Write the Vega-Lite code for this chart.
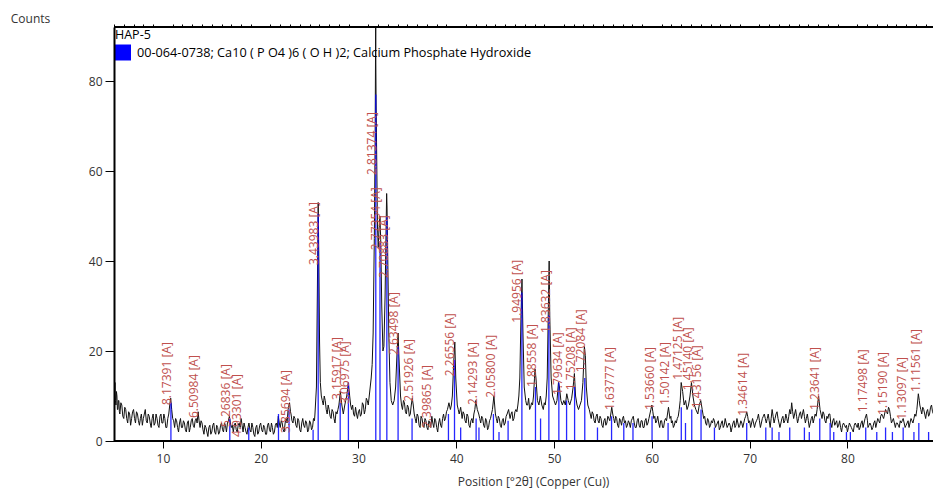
{
  "$schema": "https://vega.github.io/schema/vega-lite/v6.json",
  "width": 819,
  "height": 414,
  "autosize": {"type": "none"},
  "padding": {"left": 114, "top": 27, "right": 0, "bottom": 49},
  "config": {
    "font": "Open Sans",
    "view": {"stroke": null},
    "axis": {"labelFont": "Open Sans", "labelFontSize": 12, "labelColor": "#333", "grid": false, "titleFont": "Open Sans", "titleFontSize": 12, "titleFontWeight": "normal", "titleColor": "#333"}
  },
  "datasets": {
    "pattern": [
      {"pos":5.0,"cnt":16},{"pos":5.05,"cnt":10},{"pos":5.1,"cnt":13},{"pos":5.15,"cnt":9},{"pos":5.2,"cnt":8},{"pos":5.25,"cnt":11},{"pos":5.3,"cnt":10},{"pos":5.35,"cnt":7},{"pos":5.4,"cnt":7},{"pos":5.45,"cnt":9},
      {"pos":5.5,"cnt":9},{"pos":5.55,"cnt":6.5},{"pos":5.6,"cnt":6},{"pos":5.7,"cnt":8.5},{"pos":5.8,"cnt":8},{"pos":5.9,"cnt":5.5},{"pos":6.0,"cnt":5},{"pos":6.1,"cnt":7.5},{"pos":6.2,"cnt":7},{"pos":6.3,"cnt":5},
      {"pos":6.4,"cnt":4},{"pos":6.5,"cnt":6.5},{"pos":6.6,"cnt":6},{"pos":6.7,"cnt":3.5},{"pos":6.8,"cnt":5},{"pos":6.9,"cnt":6.5},{"pos":7.0,"cnt":7},{"pos":7.1,"cnt":5},{"pos":7.2,"cnt":4},{"pos":7.3,"cnt":6.5},
      {"pos":7.4,"cnt":6},{"pos":7.5,"cnt":4.5},{"pos":7.6,"cnt":3.5},{"pos":7.7,"cnt":5},{"pos":7.8,"cnt":6},{"pos":7.9,"cnt":3.5},{"pos":8.0,"cnt":5},{"pos":8.1,"cnt":6},{"pos":8.2,"cnt":7},{"pos":8.3,"cnt":4.5},
      {"pos":8.4,"cnt":4},{"pos":8.5,"cnt":6},{"pos":8.6,"cnt":5.5},{"pos":8.7,"cnt":4},{"pos":8.8,"cnt":3},{"pos":8.9,"cnt":5},{"pos":9.0,"cnt":6},{"pos":9.1,"cnt":3.5},{"pos":9.2,"cnt":4},{"pos":9.3,"cnt":6},
      {"pos":9.4,"cnt":5},{"pos":9.5,"cnt":3.5},{"pos":9.6,"cnt":3},{"pos":9.7,"cnt":5.5},{"pos":9.8,"cnt":6},{"pos":9.9,"cnt":4},{"pos":10.0,"cnt":4},{"pos":10.1,"cnt":6},{"pos":10.2,"cnt":5},{"pos":10.3,"cnt":3},
      {"pos":10.4,"cnt":3},{"pos":10.5,"cnt":5},{"pos":10.6,"cnt":6},{"pos":10.7,"cnt":8},{"pos":10.8,"cnt":9.5},{"pos":10.9,"cnt":7},{"pos":11.0,"cnt":5},{"pos":11.1,"cnt":4.5},{"pos":11.2,"cnt":3},{"pos":11.3,"cnt":5},
      {"pos":11.4,"cnt":4.5},{"pos":11.5,"cnt":3},{"pos":11.6,"cnt":2},{"pos":11.7,"cnt":4},{"pos":11.8,"cnt":5},{"pos":11.9,"cnt":3},{"pos":12.0,"cnt":3},{"pos":12.1,"cnt":4.5},{"pos":12.2,"cnt":4},{"pos":12.3,"cnt":2.5},
      {"pos":12.4,"cnt":2},{"pos":12.5,"cnt":4},{"pos":12.6,"cnt":4.5},{"pos":12.7,"cnt":2},{"pos":12.8,"cnt":3},{"pos":12.9,"cnt":4.5},{"pos":13.0,"cnt":5},{"pos":13.1,"cnt":3.5},{"pos":13.2,"cnt":3},{"pos":13.3,"cnt":4.5},
      {"pos":13.4,"cnt":5},{"pos":13.5,"cnt":4},{"pos":13.6,"cnt":6.5},{"pos":13.7,"cnt":4.5},{"pos":13.8,"cnt":3},{"pos":13.9,"cnt":4.5},{"pos":14.0,"cnt":4},{"pos":14.1,"cnt":2.5},{"pos":14.2,"cnt":1.5},{"pos":14.3,"cnt":3.5},
      {"pos":14.4,"cnt":3},{"pos":14.5,"cnt":2},{"pos":14.6,"cnt":1},{"pos":14.7,"cnt":3},{"pos":14.8,"cnt":3.5},{"pos":14.9,"cnt":1.5},{"pos":15.0,"cnt":2},{"pos":15.1,"cnt":3.5},{"pos":15.2,"cnt":4},{"pos":15.3,"cnt":2},
      {"pos":15.4,"cnt":1.5},{"pos":15.5,"cnt":3.5},{"pos":15.6,"cnt":3},{"pos":15.7,"cnt":1.5},{"pos":15.8,"cnt":2},{"pos":15.9,"cnt":3.5},{"pos":16.0,"cnt":4},{"pos":16.1,"cnt":2.5},{"pos":16.2,"cnt":2},{"pos":16.3,"cnt":4},
      {"pos":16.4,"cnt":3.5},{"pos":16.5,"cnt":2},{"pos":16.6,"cnt":4},{"pos":16.7,"cnt":4.5},{"pos":16.8,"cnt":5.5},{"pos":16.9,"cnt":4},{"pos":17.0,"cnt":3},{"pos":17.1,"cnt":3.5},{"pos":17.2,"cnt":2},{"pos":17.3,"cnt":3.5},
      {"pos":17.4,"cnt":4},{"pos":17.5,"cnt":2.5},{"pos":17.6,"cnt":2},{"pos":17.7,"cnt":3.5},{"pos":17.8,"cnt":4},{"pos":17.9,"cnt":3},{"pos":18.0,"cnt":5},{"pos":18.1,"cnt":3.5},{"pos":18.2,"cnt":2},{"pos":18.3,"cnt":4},
      {"pos":18.4,"cnt":3},{"pos":18.5,"cnt":2},{"pos":18.6,"cnt":1.5},{"pos":18.7,"cnt":3},{"pos":18.8,"cnt":4},{"pos":18.9,"cnt":2.5},{"pos":19.0,"cnt":2},{"pos":19.1,"cnt":4},{"pos":19.2,"cnt":3},{"pos":19.3,"cnt":1.5},
      {"pos":19.4,"cnt":1},{"pos":19.5,"cnt":3},{"pos":19.6,"cnt":3.5},{"pos":19.7,"cnt":1.5},{"pos":19.8,"cnt":2},{"pos":19.9,"cnt":3.5},{"pos":20.0,"cnt":4},{"pos":20.1,"cnt":2.5},{"pos":20.2,"cnt":2},{"pos":20.3,"cnt":3.5},
      {"pos":20.4,"cnt":3},{"pos":20.5,"cnt":1.5},{"pos":20.6,"cnt":1.5},{"pos":20.7,"cnt":3.5},{"pos":20.8,"cnt":4},{"pos":20.9,"cnt":2.5},{"pos":21.0,"cnt":2},{"pos":21.1,"cnt":4},{"pos":21.2,"cnt":3},{"pos":21.3,"cnt":1.5},
      {"pos":21.4,"cnt":2},{"pos":21.5,"cnt":3.5},{"pos":21.6,"cnt":4},{"pos":21.7,"cnt":3},{"pos":21.8,"cnt":5.5},{"pos":21.9,"cnt":4},{"pos":22.0,"cnt":3},{"pos":22.1,"cnt":4.5},{"pos":22.2,"cnt":4},{"pos":22.3,"cnt":2.5},
      {"pos":22.4,"cnt":2},{"pos":22.5,"cnt":4},{"pos":22.6,"cnt":5},{"pos":22.7,"cnt":4},{"pos":22.8,"cnt":7},{"pos":22.95,"cnt":8.5},{"pos":23.05,"cnt":6.5},{"pos":23.1,"cnt":6},{"pos":23.2,"cnt":4.5},{"pos":23.3,"cnt":4},
      {"pos":23.4,"cnt":5.5},{"pos":23.5,"cnt":5},{"pos":23.6,"cnt":3.5},{"pos":23.7,"cnt":3},{"pos":23.8,"cnt":5},{"pos":23.9,"cnt":4.5},{"pos":24.0,"cnt":2.5},{"pos":24.1,"cnt":2},{"pos":24.2,"cnt":4},{"pos":24.3,"cnt":5},
      {"pos":24.4,"cnt":3.5},{"pos":24.5,"cnt":3},{"pos":24.6,"cnt":4.5},{"pos":24.7,"cnt":4},{"pos":24.8,"cnt":2},{"pos":24.9,"cnt":2.5},{"pos":25.0,"cnt":4.5},{"pos":25.1,"cnt":4},{"pos":25.2,"cnt":2.5},{"pos":25.3,"cnt":3},
      {"pos":25.4,"cnt":5},{"pos":25.5,"cnt":4.5},{"pos":25.55,"cnt":6},{"pos":25.7,"cnt":12},{"pos":25.8,"cnt":34},{"pos":25.88,"cnt":53},{"pos":25.95,"cnt":40},{"pos":26.02,"cnt":22},{"pos":26.1,"cnt":13},{"pos":26.2,"cnt":10},
      {"pos":26.3,"cnt":9},{"pos":26.4,"cnt":8},{"pos":26.5,"cnt":10},{"pos":26.6,"cnt":9},{"pos":26.7,"cnt":7},{"pos":26.8,"cnt":6},{"pos":26.9,"cnt":8},{"pos":27.0,"cnt":7},{"pos":27.1,"cnt":5.5},{"pos":27.2,"cnt":5},
      {"pos":27.3,"cnt":7},{"pos":27.4,"cnt":6.5},{"pos":27.5,"cnt":5},{"pos":27.6,"cnt":4},{"pos":27.7,"cnt":6.5},{"pos":27.8,"cnt":6},{"pos":27.9,"cnt":7},{"pos":28.0,"cnt":8},{"pos":28.15,"cnt":11},{"pos":28.3,"cnt":8},
      {"pos":28.45,"cnt":6},{"pos":28.6,"cnt":8},{"pos":28.7,"cnt":9},{"pos":28.8,"cnt":10},{"pos":28.97,"cnt":13},{"pos":29.1,"cnt":10},{"pos":29.2,"cnt":8},{"pos":29.3,"cnt":7},{"pos":29.4,"cnt":8},{"pos":29.5,"cnt":6},
      {"pos":29.6,"cnt":5.5},{"pos":29.7,"cnt":7.5},{"pos":29.8,"cnt":6},{"pos":29.9,"cnt":5},{"pos":30.0,"cnt":6.5},{"pos":30.1,"cnt":7},{"pos":30.2,"cnt":5.5},{"pos":30.3,"cnt":6},{"pos":30.4,"cnt":8.5},{"pos":30.5,"cnt":8},
      {"pos":30.6,"cnt":6},{"pos":30.7,"cnt":7},{"pos":30.8,"cnt":9.5},{"pos":30.9,"cnt":9},{"pos":31.0,"cnt":8},{"pos":31.1,"cnt":10},{"pos":31.2,"cnt":12},{"pos":31.3,"cnt":14},{"pos":31.4,"cnt":17},{"pos":31.5,"cnt":24},
      {"pos":31.62,"cnt":45},{"pos":31.7,"cnt":66},{"pos":31.74,"cnt":84},{"pos":31.765,"cnt":100},{"pos":31.775,"cnt":84},{"pos":31.8,"cnt":76},{"pos":31.86,"cnt":64},{"pos":31.94,"cnt":48},{"pos":32.02,"cnt":43},{"pos":32.1,"cnt":47},
      {"pos":32.2,"cnt":50},{"pos":32.28,"cnt":44},{"pos":32.38,"cnt":30},{"pos":32.5,"cnt":20},{"pos":32.6,"cnt":21},{"pos":32.72,"cnt":32},{"pos":32.82,"cnt":47},{"pos":32.88,"cnt":55},{"pos":32.92,"cnt":52},{"pos":33.0,"cnt":40},
      {"pos":33.1,"cnt":24},{"pos":33.22,"cnt":13},{"pos":33.35,"cnt":9},{"pos":33.5,"cnt":8},{"pos":33.65,"cnt":9},{"pos":33.8,"cnt":12},{"pos":33.95,"cnt":20},{"pos":34.05,"cnt":24},{"pos":34.15,"cnt":18},{"pos":34.3,"cnt":10},
      {"pos":34.4,"cnt":8},{"pos":34.5,"cnt":7},{"pos":34.6,"cnt":9},{"pos":34.7,"cnt":8.5},{"pos":34.8,"cnt":6.5},{"pos":34.9,"cnt":6},{"pos":35.0,"cnt":8},{"pos":35.1,"cnt":7.5},{"pos":35.2,"cnt":5.5},{"pos":35.3,"cnt":6},
      {"pos":35.4,"cnt":8},{"pos":35.5,"cnt":9.5},{"pos":35.6,"cnt":8},{"pos":35.7,"cnt":6},{"pos":35.8,"cnt":5},{"pos":35.9,"cnt":4},{"pos":36.0,"cnt":6},{"pos":36.1,"cnt":5.5},{"pos":36.2,"cnt":3.5},{"pos":36.3,"cnt":3},
      {"pos":36.4,"cnt":5.5},{"pos":36.5,"cnt":5},{"pos":36.6,"cnt":3.5},{"pos":36.7,"cnt":3},{"pos":36.8,"cnt":5},{"pos":36.9,"cnt":4.5},{"pos":37.0,"cnt":3},{"pos":37.1,"cnt":2.5},{"pos":37.2,"cnt":4.5},{"pos":37.3,"cnt":4},
      {"pos":37.4,"cnt":3},{"pos":37.5,"cnt":5.5},{"pos":37.6,"cnt":4},{"pos":37.7,"cnt":3},{"pos":37.8,"cnt":5},{"pos":37.9,"cnt":4.5},{"pos":38.0,"cnt":3},{"pos":38.1,"cnt":2},{"pos":38.2,"cnt":4},{"pos":38.3,"cnt":5},
      {"pos":38.4,"cnt":3.5},{"pos":38.5,"cnt":3},{"pos":38.6,"cnt":5},{"pos":38.7,"cnt":6},{"pos":38.8,"cnt":4.5},{"pos":38.9,"cnt":5},{"pos":39.0,"cnt":6.5},{"pos":39.1,"cnt":7},{"pos":39.25,"cnt":8.5},{"pos":39.4,"cnt":7},
      {"pos":39.5,"cnt":8},{"pos":39.6,"cnt":10},{"pos":39.75,"cnt":18},{"pos":39.85,"cnt":22},{"pos":39.95,"cnt":14},{"pos":40.1,"cnt":8},{"pos":40.2,"cnt":7},{"pos":40.3,"cnt":6},{"pos":40.45,"cnt":7.5},{"pos":40.6,"cnt":5},
      {"pos":40.7,"cnt":6.5},{"pos":40.8,"cnt":6},{"pos":40.9,"cnt":4.5},{"pos":41.0,"cnt":4},{"pos":41.1,"cnt":6},{"pos":41.2,"cnt":5.5},{"pos":41.3,"cnt":3.5},{"pos":41.4,"cnt":3},{"pos":41.5,"cnt":4.5},{"pos":41.6,"cnt":5},
      {"pos":41.7,"cnt":4},{"pos":41.8,"cnt":6},{"pos":41.9,"cnt":7},{"pos":42.0,"cnt":9},{"pos":42.15,"cnt":7},{"pos":42.3,"cnt":6},{"pos":42.4,"cnt":5},{"pos":42.5,"cnt":4},{"pos":42.6,"cnt":5.5},{"pos":42.7,"cnt":5},
      {"pos":42.8,"cnt":3.5},{"pos":42.9,"cnt":3},{"pos":43.0,"cnt":5},{"pos":43.1,"cnt":4.5},{"pos":43.2,"cnt":2.5},{"pos":43.3,"cnt":3},{"pos":43.4,"cnt":4.5},{"pos":43.5,"cnt":5},{"pos":43.6,"cnt":6},{"pos":43.7,"cnt":7},
      {"pos":43.85,"cnt":10},{"pos":44.0,"cnt":6},{"pos":44.1,"cnt":5},{"pos":44.2,"cnt":4},{"pos":44.3,"cnt":5.5},{"pos":44.4,"cnt":5},{"pos":44.5,"cnt":3.5},{"pos":44.6,"cnt":3},{"pos":44.7,"cnt":4.5},{"pos":44.8,"cnt":5},
      {"pos":44.9,"cnt":3.5},{"pos":45.0,"cnt":4},{"pos":45.1,"cnt":5.5},{"pos":45.2,"cnt":6},{"pos":45.35,"cnt":7},{"pos":45.5,"cnt":5},{"pos":45.6,"cnt":6},{"pos":45.7,"cnt":6.5},{"pos":45.8,"cnt":4.5},{"pos":45.9,"cnt":5},
      {"pos":46.0,"cnt":6.5},{"pos":46.1,"cnt":7},{"pos":46.2,"cnt":6.5},{"pos":46.3,"cnt":8},{"pos":46.4,"cnt":10},{"pos":46.5,"cnt":14},{"pos":46.62,"cnt":28},{"pos":46.72,"cnt":36},{"pos":46.82,"cnt":24},{"pos":46.95,"cnt":12},
      {"pos":47.1,"cnt":9},{"pos":47.2,"cnt":8},{"pos":47.3,"cnt":8},{"pos":47.4,"cnt":9.5},{"pos":47.5,"cnt":7},{"pos":47.6,"cnt":7.5},{"pos":47.7,"cnt":8.5},{"pos":47.8,"cnt":8},{"pos":47.9,"cnt":10},{"pos":48.05,"cnt":16},
      {"pos":48.15,"cnt":14},{"pos":48.3,"cnt":9},{"pos":48.45,"cnt":8},{"pos":48.6,"cnt":10},{"pos":48.75,"cnt":8},{"pos":48.9,"cnt":7},{"pos":49.0,"cnt":8.5},{"pos":49.1,"cnt":8},{"pos":49.2,"cnt":10},{"pos":49.3,"cnt":14},
      {"pos":49.42,"cnt":30},{"pos":49.5,"cnt":40},{"pos":49.56,"cnt":28},{"pos":49.7,"cnt":14},{"pos":49.85,"cnt":10},{"pos":50.0,"cnt":9},{"pos":50.15,"cnt":8},{"pos":50.3,"cnt":9},{"pos":50.45,"cnt":13},{"pos":50.55,"cnt":12},
      {"pos":50.7,"cnt":9},{"pos":50.85,"cnt":8},{"pos":51.0,"cnt":9},{"pos":51.15,"cnt":8},{"pos":51.3,"cnt":10.5},{"pos":51.45,"cnt":9},{"pos":51.6,"cnt":8},{"pos":51.8,"cnt":9.5},{"pos":51.95,"cnt":12},{"pos":52.08,"cnt":15},
      {"pos":52.2,"cnt":10},{"pos":52.35,"cnt":8},{"pos":52.5,"cnt":7},{"pos":52.65,"cnt":8},{"pos":52.8,"cnt":9},{"pos":52.95,"cnt":13},{"pos":53.1,"cnt":21},{"pos":53.2,"cnt":19},{"pos":53.3,"cnt":12},{"pos":53.45,"cnt":8},
      {"pos":53.6,"cnt":7},{"pos":53.7,"cnt":6},{"pos":53.8,"cnt":5},{"pos":53.9,"cnt":6.5},{"pos":54.0,"cnt":6},{"pos":54.1,"cnt":4.5},{"pos":54.2,"cnt":4},{"pos":54.3,"cnt":5.5},{"pos":54.4,"cnt":6},{"pos":54.5,"cnt":4.5},
      {"pos":54.6,"cnt":4},{"pos":54.7,"cnt":5.5},{"pos":54.8,"cnt":5},{"pos":54.9,"cnt":3.5},{"pos":55.0,"cnt":3},{"pos":55.1,"cnt":4.5},{"pos":55.2,"cnt":5},{"pos":55.3,"cnt":3.5},{"pos":55.4,"cnt":4},{"pos":55.5,"cnt":5.5},
      {"pos":55.6,"cnt":5},{"pos":55.7,"cnt":4.5},{"pos":55.8,"cnt":6},{"pos":55.9,"cnt":7.5},{"pos":56.0,"cnt":6},{"pos":56.1,"cnt":5},{"pos":56.2,"cnt":4},{"pos":56.3,"cnt":5.5},{"pos":56.4,"cnt":5},{"pos":56.5,"cnt":3.5},
      {"pos":56.6,"cnt":3},{"pos":56.7,"cnt":5},{"pos":56.8,"cnt":4.5},{"pos":56.9,"cnt":3.5},{"pos":57.0,"cnt":5},{"pos":57.1,"cnt":5.5},{"pos":57.2,"cnt":4},{"pos":57.3,"cnt":4.5},{"pos":57.4,"cnt":3},{"pos":57.5,"cnt":3.5},
      {"pos":57.6,"cnt":4.5},{"pos":57.7,"cnt":4},{"pos":57.8,"cnt":3},{"pos":57.9,"cnt":4.5},{"pos":58.0,"cnt":5},{"pos":58.1,"cnt":5.5},{"pos":58.2,"cnt":4},{"pos":58.3,"cnt":3},{"pos":58.4,"cnt":3},{"pos":58.5,"cnt":4.5},
      {"pos":58.6,"cnt":5},{"pos":58.7,"cnt":3.5},{"pos":58.8,"cnt":3},{"pos":58.9,"cnt":4.5},{"pos":59.0,"cnt":4.5},{"pos":59.1,"cnt":3},{"pos":59.2,"cnt":3},{"pos":59.3,"cnt":4.5},{"pos":59.4,"cnt":5},{"pos":59.5,"cnt":3.5},
      {"pos":59.6,"cnt":4},{"pos":59.7,"cnt":5},{"pos":59.8,"cnt":6},{"pos":59.9,"cnt":7},{"pos":60.0,"cnt":8},{"pos":60.1,"cnt":6.5},{"pos":60.2,"cnt":5},{"pos":60.3,"cnt":5.5},{"pos":60.4,"cnt":4},{"pos":60.5,"cnt":4.5},
      {"pos":60.6,"cnt":5.5},{"pos":60.7,"cnt":4},{"pos":60.8,"cnt":3},{"pos":60.9,"cnt":4.5},{"pos":61.0,"cnt":4.5},{"pos":61.1,"cnt":3},{"pos":61.2,"cnt":3},{"pos":61.3,"cnt":4.5},{"pos":61.4,"cnt":5},{"pos":61.5,"cnt":4.5},
      {"pos":61.6,"cnt":6},{"pos":61.7,"cnt":7.5},{"pos":61.85,"cnt":5},{"pos":61.95,"cnt":5.5},{"pos":62.0,"cnt":4},{"pos":62.1,"cnt":4.5},{"pos":62.2,"cnt":3},{"pos":62.3,"cnt":3.5},{"pos":62.4,"cnt":4.5},{"pos":62.5,"cnt":4},
      {"pos":62.6,"cnt":5},{"pos":62.7,"cnt":5.5},{"pos":62.8,"cnt":7},{"pos":62.9,"cnt":9},{"pos":63.0,"cnt":13},{"pos":63.15,"cnt":11},{"pos":63.3,"cnt":8},{"pos":63.45,"cnt":9},{"pos":63.6,"cnt":7},{"pos":63.75,"cnt":8},
      {"pos":63.9,"cnt":10},{"pos":64.05,"cnt":13},{"pos":64.2,"cnt":10},{"pos":64.35,"cnt":8},{"pos":64.5,"cnt":7},{"pos":64.7,"cnt":6},{"pos":64.85,"cnt":8},{"pos":65.0,"cnt":9},{"pos":65.15,"cnt":7},{"pos":65.3,"cnt":5},
      {"pos":65.4,"cnt":5.5},{"pos":65.5,"cnt":4},{"pos":65.6,"cnt":3.5},{"pos":65.7,"cnt":5},{"pos":65.8,"cnt":4.5},{"pos":65.9,"cnt":3},{"pos":66.0,"cnt":3.5},{"pos":66.1,"cnt":4.5},{"pos":66.2,"cnt":4},{"pos":66.3,"cnt":5},
      {"pos":66.4,"cnt":4.5},{"pos":66.5,"cnt":3},{"pos":66.6,"cnt":3.5},{"pos":66.7,"cnt":4},{"pos":66.8,"cnt":4.5},{"pos":66.9,"cnt":2.5},{"pos":67.0,"cnt":3},{"pos":67.1,"cnt":4},{"pos":67.2,"cnt":4.5},{"pos":67.3,"cnt":3},
      {"pos":67.4,"cnt":3.5},{"pos":67.5,"cnt":5},{"pos":67.6,"cnt":4},{"pos":67.7,"cnt":3},{"pos":67.8,"cnt":3.5},{"pos":67.9,"cnt":4},{"pos":68.0,"cnt":3.5},{"pos":68.1,"cnt":2},{"pos":68.2,"cnt":3},{"pos":68.3,"cnt":4},
      {"pos":68.4,"cnt":4.5},{"pos":68.5,"cnt":3},{"pos":68.6,"cnt":3.5},{"pos":68.7,"cnt":5},{"pos":68.8,"cnt":4},{"pos":68.9,"cnt":3},{"pos":69.0,"cnt":3.5},{"pos":69.1,"cnt":4.5},{"pos":69.2,"cnt":4},{"pos":69.3,"cnt":3},
      {"pos":69.4,"cnt":4},{"pos":69.5,"cnt":5},{"pos":69.6,"cnt":5.5},{"pos":69.7,"cnt":6.5},{"pos":69.8,"cnt":5.5},{"pos":69.9,"cnt":4},{"pos":70.0,"cnt":4.5},{"pos":70.1,"cnt":3},{"pos":70.2,"cnt":4},{"pos":70.3,"cnt":5},
      {"pos":70.4,"cnt":4},{"pos":70.5,"cnt":3},{"pos":70.6,"cnt":4},{"pos":70.7,"cnt":4.5},{"pos":70.8,"cnt":5},{"pos":70.9,"cnt":6},{"pos":71.0,"cnt":4.5},{"pos":71.1,"cnt":3},{"pos":71.2,"cnt":4},{"pos":71.3,"cnt":5},
      {"pos":71.4,"cnt":5.5},{"pos":71.5,"cnt":6},{"pos":71.6,"cnt":5},{"pos":71.7,"cnt":4},{"pos":71.8,"cnt":5},{"pos":71.9,"cnt":6},{"pos":72.0,"cnt":4.5},{"pos":72.1,"cnt":3},{"pos":72.2,"cnt":5},{"pos":72.3,"cnt":7},
      {"pos":72.4,"cnt":5.5},{"pos":72.5,"cnt":4},{"pos":72.6,"cnt":5},{"pos":72.7,"cnt":6},{"pos":72.8,"cnt":6.5},{"pos":72.9,"cnt":5},{"pos":73.0,"cnt":4},{"pos":73.1,"cnt":3},{"pos":73.2,"cnt":4},{"pos":73.3,"cnt":5},
      {"pos":73.4,"cnt":5.5},{"pos":73.5,"cnt":4},{"pos":73.6,"cnt":4.5},{"pos":73.7,"cnt":6},{"pos":73.8,"cnt":5},{"pos":73.9,"cnt":4},{"pos":74.0,"cnt":5.5},{"pos":74.1,"cnt":7},{"pos":74.2,"cnt":6},{"pos":74.3,"cnt":8.5},
      {"pos":74.4,"cnt":6.5},{"pos":74.5,"cnt":5},{"pos":74.6,"cnt":6},{"pos":74.7,"cnt":7},{"pos":74.8,"cnt":5.5},{"pos":74.9,"cnt":4},{"pos":75.0,"cnt":5},{"pos":75.1,"cnt":6},{"pos":75.2,"cnt":6.5},{"pos":75.3,"cnt":5},
      {"pos":75.4,"cnt":6},{"pos":75.5,"cnt":7},{"pos":75.6,"cnt":5.5},{"pos":75.7,"cnt":4},{"pos":75.8,"cnt":5},{"pos":75.9,"cnt":6},{"pos":76.0,"cnt":4.5},{"pos":76.1,"cnt":3},{"pos":76.2,"cnt":4},{"pos":76.3,"cnt":5},
      {"pos":76.4,"cnt":5.5},{"pos":76.5,"cnt":4},{"pos":76.6,"cnt":5},{"pos":76.7,"cnt":6},{"pos":76.8,"cnt":5.5},{"pos":76.9,"cnt":7},{"pos":77.05,"cnt":10},{"pos":77.15,"cnt":8},{"pos":77.2,"cnt":7},{"pos":77.3,"cnt":6},
      {"pos":77.4,"cnt":5},{"pos":77.5,"cnt":6.5},{"pos":77.6,"cnt":6},{"pos":77.7,"cnt":4.5},{"pos":77.8,"cnt":4},{"pos":77.9,"cnt":5.5},{"pos":78.0,"cnt":5},{"pos":78.1,"cnt":6},{"pos":78.2,"cnt":6},{"pos":78.3,"cnt":4},
      {"pos":78.4,"cnt":3},{"pos":78.5,"cnt":4.5},{"pos":78.6,"cnt":5},{"pos":78.7,"cnt":3.5},{"pos":78.8,"cnt":4},{"pos":78.9,"cnt":4.5},{"pos":79.0,"cnt":3},{"pos":79.1,"cnt":3.5},{"pos":79.2,"cnt":4.5},{"pos":79.3,"cnt":3},
      {"pos":79.4,"cnt":2},{"pos":79.5,"cnt":3.5},{"pos":79.6,"cnt":4},{"pos":79.7,"cnt":3.5},{"pos":79.8,"cnt":3},{"pos":79.9,"cnt":3.5},{"pos":80.0,"cnt":2},{"pos":80.1,"cnt":3},{"pos":80.2,"cnt":4},{"pos":80.3,"cnt":3.5},
      {"pos":80.4,"cnt":3},{"pos":80.5,"cnt":2.5},{"pos":80.6,"cnt":2},{"pos":80.7,"cnt":3.5},{"pos":80.8,"cnt":4},{"pos":80.9,"cnt":3.5},{"pos":81.0,"cnt":3},{"pos":81.1,"cnt":4},{"pos":81.2,"cnt":2.5},{"pos":81.3,"cnt":3},
      {"pos":81.4,"cnt":4},{"pos":81.5,"cnt":4.5},{"pos":81.6,"cnt":3},{"pos":81.7,"cnt":4},{"pos":81.8,"cnt":5},{"pos":81.95,"cnt":6},{"pos":82.05,"cnt":4.5},{"pos":82.1,"cnt":3},{"pos":82.2,"cnt":3.5},{"pos":82.3,"cnt":4},
      {"pos":82.4,"cnt":3.5},{"pos":82.5,"cnt":2.5},{"pos":82.6,"cnt":3},{"pos":82.7,"cnt":4},{"pos":82.8,"cnt":4.5},{"pos":82.9,"cnt":3},{"pos":83.0,"cnt":4},{"pos":83.1,"cnt":5},{"pos":83.2,"cnt":4.5},{"pos":83.3,"cnt":4},
      {"pos":83.4,"cnt":5.5},{"pos":83.5,"cnt":6},{"pos":83.6,"cnt":5.5},{"pos":83.7,"cnt":5},{"pos":83.8,"cnt":6},{"pos":83.9,"cnt":7},{"pos":84.0,"cnt":6.5},{"pos":84.1,"cnt":6},{"pos":84.2,"cnt":7.5},{"pos":84.3,"cnt":7},
      {"pos":84.4,"cnt":5.5},{"pos":84.5,"cnt":4},{"pos":84.6,"cnt":4.5},{"pos":84.7,"cnt":5},{"pos":84.8,"cnt":4},{"pos":84.9,"cnt":3},{"pos":85.0,"cnt":4},{"pos":85.1,"cnt":4},{"pos":85.2,"cnt":3.5},{"pos":85.3,"cnt":3},
      {"pos":85.4,"cnt":4.5},{"pos":85.5,"cnt":4},{"pos":85.6,"cnt":4.5},{"pos":85.7,"cnt":5},{"pos":85.8,"cnt":4},{"pos":85.9,"cnt":3},{"pos":86.0,"cnt":3.5},{"pos":86.1,"cnt":4},{"pos":86.2,"cnt":4.5},{"pos":86.3,"cnt":3},
      {"pos":86.4,"cnt":4},{"pos":86.5,"cnt":5},{"pos":86.6,"cnt":4.5},{"pos":86.7,"cnt":4},{"pos":86.8,"cnt":5},{"pos":86.9,"cnt":6},{"pos":87.0,"cnt":5.5},{"pos":87.1,"cnt":7},{"pos":87.25,"cnt":10.5},{"pos":87.35,"cnt":9},
      {"pos":87.4,"cnt":8},{"pos":87.5,"cnt":7},{"pos":87.6,"cnt":6},{"pos":87.7,"cnt":7.5},{"pos":87.8,"cnt":7},{"pos":87.9,"cnt":6},{"pos":88.0,"cnt":5},{"pos":88.1,"cnt":6.5},{"pos":88.2,"cnt":7},{"pos":88.3,"cnt":5.5},
      {"pos":88.4,"cnt":6},{"pos":88.5,"cnt":7.5},{"pos":88.6,"cnt":8},{"pos":88.7,"cnt":6.5},{"pos":88.8,"cnt":6},{"pos":88.9,"cnt":7.5},{"pos":89.0,"cnt":7}
    ],
    "sticks": [
      {"pos":10.82,"h":8.5},{"pos":16.84,"h":5},{"pos":18.78,"h":3},{"pos":21.82,"h":6},{"pos":22.9,"h":7},{"pos":25.36,"h":2.5},{"pos":25.88,"h":50.5},{"pos":28.13,"h":8.5},{"pos":28.97,"h":13},{"pos":31.77,"h":77},
      {"pos":32.2,"h":44},{"pos":32.9,"h":50},{"pos":34.05,"h":21},{"pos":35.48,"h":5},{"pos":39.2,"h":6},{"pos":39.82,"h":18},{"pos":40.45,"h":3},{"pos":42.03,"h":5},{"pos":42.32,"h":3},{"pos":43.8,"h":6},
      {"pos":44.37,"h":2},{"pos":45.3,"h":4.5},{"pos":46.71,"h":33},{"pos":48.1,"h":12},{"pos":48.62,"h":5},{"pos":49.47,"h":28},{"pos":50.49,"h":13},{"pos":51.28,"h":9},{"pos":52.1,"h":12},{"pos":53.14,"h":14},
      {"pos":54.44,"h":3},{"pos":55.88,"h":5.5},{"pos":57.13,"h":4},{"pos":58.07,"h":4},{"pos":60.02,"h":5.5},{"pos":61.66,"h":4},{"pos":63.01,"h":7.5},{"pos":63.44,"h":4},{"pos":64.08,"h":7},{"pos":65.03,"h":7},
      {"pos":66.4,"h":3},{"pos":69.7,"h":4},{"pos":71.65,"h":3},{"pos":72.3,"h":3},{"pos":73.0,"h":2},{"pos":74.1,"h":3},{"pos":75.6,"h":3},{"pos":76.1,"h":2},{"pos":77.17,"h":5},{"pos":78.23,"h":4},
      {"pos":78.6,"h":2},{"pos":79.9,"h":2},{"pos":80.3,"h":2},{"pos":81.87,"h":3},{"pos":83.0,"h":2},{"pos":83.9,"h":3},{"pos":84.6,"h":2},{"pos":85.7,"h":3},{"pos":86.8,"h":2},{"pos":87.3,"h":4},{"pos":88.3,"h":2}
    ],
    "labels": [
      {"pos":10.82,"ly":8.0,"lab":"8.17391 [A]"},{"pos":13.59,"ly":5.1,"lab":"6.50984 [A]"},{"pos":16.82,"ly":3.1,"lab":"5.26836 [A]"},{"pos":17.97,"ly":0.9,"lab":"4.93301 [A]"},
      {"pos":23.04,"ly":1.8,"lab":"3.85694 [A]"},{"pos":25.88,"ly":39.1,"lab":"3.43983 [A]"},{"pos":28.2,"ly":9.1,"lab":"3.15917 [A]"},{"pos":29.0,"ly":8.2,"lab":"3.06975 [A]"},
      {"pos":31.78,"ly":59.1,"lab":"2.81374 [A]"},{"pos":32.25,"ly":42.4,"lab":"2.77354 [A]"},{"pos":33.04,"ly":36.2,"lab":"2.70883 [A]"},{"pos":34.0,"ly":19.1,"lab":"2.63498 [A]"},
      {"pos":35.61,"ly":8.7,"lab":"2.51926 [A]"},{"pos":37.46,"ly":2.9,"lab":"2.39865 [A]"},{"pos":39.8,"ly":14.4,"lab":"2.26556 [A]"},{"pos":42.13,"ly":8.0,"lab":"2.14293 [A]"},
      {"pos":43.96,"ly":9.6,"lab":"2.05800 [A]"},{"pos":46.6,"ly":26.3,"lab":"1.94956 [A]"},{"pos":48.2,"ly":12.0,"lab":"1.88558 [A]"},{"pos":49.6,"ly":24.0,"lab":"1.83632 [A]"},
      {"pos":50.8,"ly":10.2,"lab":"1.79634 [A]"},{"pos":52.18,"ly":11.3,"lab":"1.75208 [A]"},{"pos":53.2,"ly":15.3,"lab":"1.72084 [A]"},{"pos":56.14,"ly":6.9,"lab":"1.63777 [A]"},
      {"pos":60.17,"ly":6.9,"lab":"1.53660 [A]"},{"pos":61.72,"ly":8.0,"lab":"1.50142 [A]"},{"pos":63.12,"ly":13.6,"lab":"1.47125 [A]"},{"pos":64.08,"ly":11.3,"lab":"1.45140 [A]"},
      {"pos":65.07,"ly":7.3,"lab":"1.43156 [A]"},{"pos":69.77,"ly":5.6,"lab":"1.34614 [A]"},{"pos":77.06,"ly":6.9,"lab":"1.23641 [A]"},{"pos":81.97,"ly":6.4,"lab":"1.17498 [A]"},
      {"pos":84.0,"ly":5.8,"lab":"1.15190 [A]"},{"pos":85.96,"ly":4.7,"lab":"1.13097 [A]"},{"pos":87.47,"ly":10.9,"lab":"1.11561 [A]"}
    ],
    "frame": [
      {"side": "top", "cnt": 92},
      {"side": "bottom", "cnt": 0}
    ]
  },
  "resolve": {"axis": {"x": "independent", "y": "independent"}},
  "layer": [
    {
      "data": {"name": "pattern"},
      "mark": {"type": "line", "color": "#111", "strokeWidth": 1.0, "clip": true},
      "encoding": {
        "x": {"field": "pos", "type": "quantitative", "scale": {"domain": [5, 88.75], "nice": false, "zero": false},
          "axis": {"values": [10, 20, 30, 40, 50, 60, 70, 80], "domain": false, "ticks": true, "tickColor": "#000", "tickWidth": 1, "tickSize": 7, "zindex": 2,
            "labelPadding": 5, "title": "Position [°2θ] (Copper (Cu))", "titleX": 419, "titleY": 40, "titleBaseline": "middle", "titleAlign": "center"}},
        "y": {"field": "cnt", "type": "quantitative", "scale": {"domain": [0, 92], "nice": false},
          "axis": {"values": [0, 20, 40, 60, 80], "domain": true, "domainColor": "#000", "domainWidth": 2, "ticks": true, "tickColor": "#000", "tickWidth": 1, "tickSize": 9, "zindex": 2, "labelPadding": 3, "title": "Counts", "titleAngle": 0, "titleX": -84, "titleY": -9, "titleAlign": "center", "titleBaseline": "middle"}}
      }
    },
    {
      "data": {"name": "sticks"},
      "mark": {"type": "rule", "strokeWidth": 1.3, "opacity": 0.85},
      "encoding": {
        "x": {"field": "pos", "type": "quantitative",
          "axis": {"values": [5,6,7,8,9,11,12,13,14,15,16,17,18,19,21,22,23,24,25,26,27,28,29,31,32,33,34,35,36,37,38,39,41,42,43,44,45,46,47,48,49,51,52,53,54,55,56,57,58,59,61,62,63,64,65,66,67,68,69,71,72,73,74,75,76,77,78,79,81,82,83,84,85,86,87,88],
            "labels": false, "domain": false, "ticks": true, "tickColor": "#000", "tickWidth": 1, "tickSize": 3, "title": null, "zindex": 2}},
        "y": {"field": "h", "type": "quantitative", "axis": null},
        "y2": {"datum": 0},
        "color": {"datum": "00-064-0738; Ca10 ( P O4 )6 ( O H )2; Calcium Phosphate Hydroxide", "type": "nominal",
          "scale": {"range": ["#0000ff"]},
          "legend": {"title": "HAP-5", "orient": "none", "legendX": 1, "legendY": 2, "symbolType": "square", "symbolSize": 256,
            "symbolFillColor": "#0000ff", "symbolStrokeColor": "#0000ff", "symbolStrokeWidth": 0, "symbolOpacity": 1,
            "labelLimit": 800, "labelFontSize": 12.7, "labelFont": "Open Sans", "labelColor": "#000", "labelOffset": 6,
            "titleFontSize": 12.5, "titleFont": "Open Sans", "titleFontWeight": "normal", "titleColor": "#000", "titlePadding": 3, "padding": 0,
            "encode": {"symbols": {"update": {"fill": {"value": "#0000ff"}, "stroke": {"value": "#0000ff"}, "opacity": {"value": 1}}}}}}
      }
    },
    {
      "data": {"name": "labels"},
      "mark": {"type": "text", "angle": 270, "align": "left", "baseline": "alphabetic", "fontSize": 12, "font": "Open Sans", "color": "#c0504d"},
      "encoding": {
        "x": {"field": "pos", "type": "quantitative", "axis": null},
        "y": {"field": "ly", "type": "quantitative", "axis": null},
        "text": {"field": "lab"}
      }
    },
    {
      "data": {"name": "frame"},
      "mark": {"type": "rule", "color": "#000", "strokeWidth": 2},
      "encoding": {"y": {"field": "cnt", "type": "quantitative", "axis": null}}
    }
  ]
}
